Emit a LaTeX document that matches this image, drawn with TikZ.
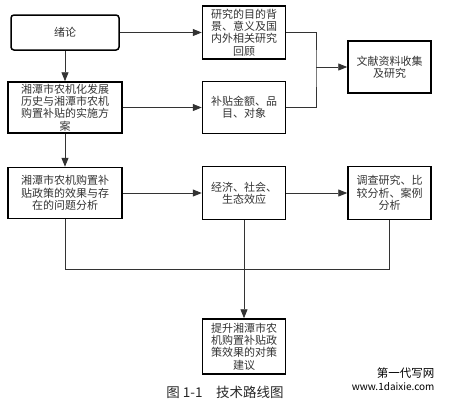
\documentclass[tikz,border=0pt]{standalone}
\usepackage{fontspec}
\usepackage{xcolor}
\usetikzlibrary{arrows.meta}
\newfontfamily\cjk{Noto Sans CJK SC}
\definecolor{linegray}{HTML}{333333}

\begin{document}
\begin{tikzpicture}[x=1pt,y=-1pt,
        box/.style={draw=black,line width=1.5pt,align=center,inner sep=0pt,
            font=\cjk\fontsize{11}{12.3}\selectfont,text=black!80},
        conn/.style={draw=linegray,line width=0.8pt},
        arr/.style={conn,-{Triangle[length=9pt,width=7pt]}}]
        \useasboundingbox (0,0) rectangle (450,400);
        % left column
        \node[box,rounded corners=3pt,minimum width=108,minimum height=35] (xulun) at (65,32.5) {绪论};
        \node[box,minimum width=114,minimum height=51] (lishi) at (65,107.5) {
            湘潭市农机化发展\\历史与湘潭市农机\\购置补贴的实施方\\案
        };
        \node[box,minimum width=114,minimum height=51] (xiaoguo) at (65,193) {
            湘潭市农机购置补\\贴政策的效果与存\\在的问题分析
        };
        % middle column
        \node[box,minimum width=83,minimum height=53] (mudi) at (244,32.5) {
            研究的目的背\\景、意义及国\\内外相关研究\\回顾
        };
        \node[box,minimum width=83,minimum height=52] (butie) at (244,107.5) {
            补贴金额、品\\目、对象
        };
        \node[box,minimum width=83,minimum height=53] (jingji) at (244,193) {
            经济、社会、\\生态效应
        };
        \node[box,minimum width=83,minimum height=55] (tisheng) at (244,346.5) {
            提升湘潭市农\\机购置补贴政\\策效果的对策\\建议
        };
        % right column
        \node[box,minimum width=83,minimum height=52] (wenxian) at (389.5,67) {
            文献资料收集\\及研究
        };
        \node[box,minimum width=83,minimum height=53] (diaocha) at (389.5,193) {
            调查研究、比\\较分析、案例\\分析
        };
        \coordinate (hebing) at (316,67);
        \coordinate (huizong) at (244,269);
        % connectors
        \draw[arr] (xulun) -- (mudi);
        \draw[arr] (xulun) -- (lishi);
        \draw[arr] (lishi) -- (butie);
        \draw[arr] (lishi) -- (xiaoguo);
        \draw[arr] (xiaoguo) -- (jingji);
        \draw[arr] (jingji) -- (diaocha);
        \draw[conn] (mudi.east) -| (hebing) |- (butie.east);
        \draw[arr] (hebing) -- (wenxian);
        \draw[conn] (xiaoguo.south) |- (diaocha.south |- huizong) -- (diaocha.south);
        \draw[conn] (jingji.south) -- (huizong);
        \draw[arr] (huizong) -- (tisheng);
        % caption
        \node[font=\cjk\fontsize{13.5}{16}\selectfont,text=black!85] (tuming) at (225,392) {图 1-1\quad 技术路线图};
        \node[font=\cjk\fontsize{11.5}{13}\selectfont,anchor=east] (wangming) at (438,373) {第一代写网};
        \node[font=\cjk\fontsize{10}{12}\selectfont,anchor=east] (wangzhi) at (438,387) {www.1daixie.com};
    \end{tikzpicture}
\end{document}
